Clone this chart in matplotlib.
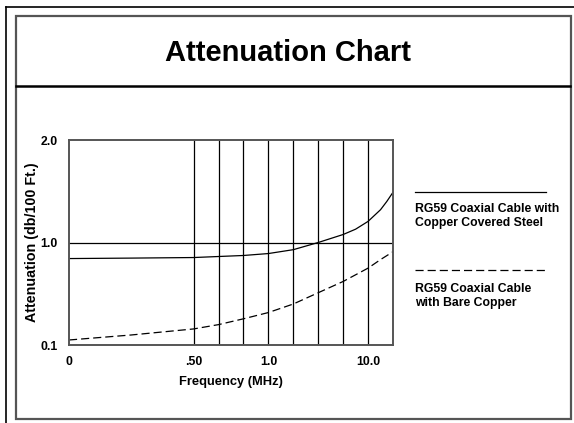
import numpy as np
import matplotlib
matplotlib.use("Agg")
from matplotlib import pyplot as plt
from matplotlib.patches import Rectangle
from matplotlib.lines import Line2D

plt.rcParams['font.family'] = ['Liberation Sans', 'DejaVu Sans']
plt.rcParams['font.weight'] = 'bold'

# grid positions along the frequency axis (chart units) and the labels on them
grid_x = [5, 6, 7, 8, 9, 10, 11, 12]
xtick_pos = [0, 5, 8, 12]
xtick_labels = ['0', '.50', '1.0', '10.0']
ytick_vals = [0.1, 1.0, 2.0]
ytick_labels = ['0.1', '1.0', '2.0']

# RG59 copper covered steel (solid)
steel_x = [0, 2.5, 5, 6, 7, 8, 9, 10, 11, 11.5, 12, 12.5, 12.75, 13]
steel_db = [0.859, 0.863, 0.868, 0.877, 0.886, 0.903, 0.937, 1.0, 1.078,
            1.13, 1.206, 1.32, 1.40, 1.49]
# RG59 bare copper (dashed)
copper_x = [0, 2.5, 5, 6, 7, 8, 9, 10, 11, 12, 12.5, 13]
copper_db = [0.144, 0.188, 0.241, 0.279, 0.330, 0.385, 0.46, 0.559, 0.658,
             0.775, 0.85, 0.919]

legend_labels = ['RG59 Coaxial Cable with\nCopper Covered Steel',
                 'RG59 Coaxial Cable\nwith Bare Copper']

W, H = 574, 423
fig = plt.figure(figsize=(W / 100, H / 100), dpi=100)

# background frame drawn in pixel coords
bg = fig.add_axes([0, 0, 1, 1])
bg.set_xlim(0, W)
bg.set_ylim(H, 0)
bg.axis('off')
bg.add_line(Line2D([6, 6], [7, H], color='black', lw=1.2))
bg.add_line(Line2D([6, W], [7, 7], color='black', lw=1.2))
bg.add_patch(Rectangle((15.5, 16.5), 555, 403, fill=False, ec='#555555', lw=1.6))
bg.add_line(Line2D([16, 570], [86, 86], color='black', lw=1.8))
bg.text(288, 53, 'Attenuation Chart', ha='center', va='center',
        fontsize=21, fontweight='bold')

# legend drawn by hand to the right of the plot
bg.add_line(Line2D([415, 546], [192, 192], color='black', lw=0.9))
bg.text(415, 216, legend_labels[0], ha='left', va='center', fontsize=8.8,
        fontweight='bold', linespacing=1.15)
dl = Line2D([415, 546], [270, 270], color='black', lw=0.9)
dl.set_dashes((6.5, 3.2))
bg.add_line(dl)
bg.text(415, 296, legend_labels[1], ha='left', va='center', fontsize=8.8,
        fontweight='bold', linespacing=1.15)


def fwd(v):
    return np.interp(v, ytick_vals, [0, 1, 2])


def inv(p):
    return np.interp(p, [0, 1, 2], ytick_vals)


ax = fig.add_axes([69 / W, 1 - 345 / H, (393 - 69) / W, (345 - 140) / H])
ax.set_yscale('function', functions=(fwd, inv))
ax.set_xlim(0, 13)
ax.set_ylim(0.1, 2.0)

for gx in grid_x:
    ax.axvline(gx, color='black', lw=0.9)
ax.axhline(1.0, color='black', lw=0.9)

ax.plot(steel_x, steel_db, color='black', lw=0.9)
cl, = ax.plot(copper_x, copper_db, color='black', lw=0.9)
cl.set_dashes((6.5, 3.2))

for s in ax.spines.values():
    s.set_color('#555555')
    s.set_linewidth(1.4)

ax.set_xticks(xtick_pos)
ax.set_xticklabels(xtick_labels)
ax.set_yticks(ytick_vals)
ax.set_yticklabels(ytick_labels)
ax.yaxis.set_minor_locator(matplotlib.ticker.NullLocator())
ax.tick_params(length=0, labelsize=8.8, pad=8)
for t in ax.get_xticklabels() + ax.get_yticklabels():
    t.set_fontweight('bold')
ax.set_xlabel('Frequency (MHz)', fontsize=9.3, fontweight='bold', labelpad=6)
ax.set_ylabel('Attenuation (db/100 Ft.)', fontsize=10.3, fontweight='bold', labelpad=1)

fig.savefig('out.png', dpi=100)
